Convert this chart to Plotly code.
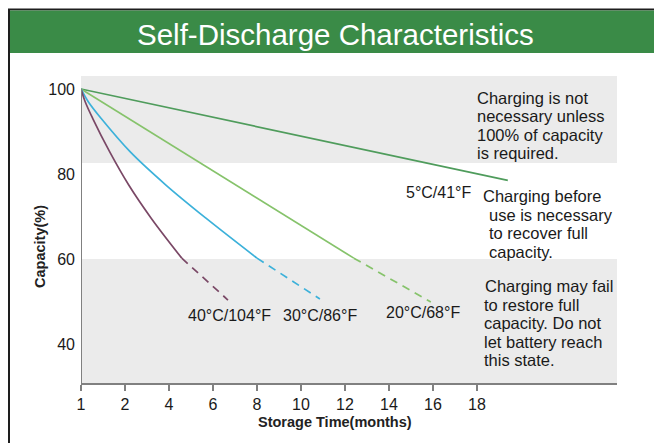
import plotly.graph_objects as go

# ---- data (x in axis units: first tick labelled "1" sits at 0) ----
tick_vals = [0, 2, 4, 6, 8, 10, 12, 14, 16, 18]
tick_text = ["1", "2", "4", "6", "8", "10", "12", "14", "16", "18"]
y_ticks = [40, 60, 80, 100]

t_5c = [0, 19.4]
c_5c = [100, 78.5]

t_20c_solid = [0, 12.4]
c_20c_solid = [100, 60.2]
t_20c_dash = [12.4, 15.9]
c_20c_dash = [60.2, 49.9]

t_30c_solid = [0, 0.33, 0.91, 2.23, 3.86, 5.68, 8.0]
c_30c_solid = [100, 97, 93.1, 85.25, 77.4, 69.6, 60.2]
t_30c_dash = [8.0, 10.86]
c_30c_dash = [60.2, 50.6]

t_40c_solid = [0, 0.19, 0.53, 1.30, 2.17, 3.19, 4.58]
c_40c_solid = [100, 97, 93.1, 85.25, 77.4, 69.6, 60.2]
t_40c_dash = [4.58, 6.68]
c_40c_dash = [60.2, 50.35]

labels = ["5°C/41°F", "20°C/68°F", "30°C/86°F", "40°C/104°F"]
note_top = ["Charging is not", "necessary unless", "100% of capacity", "is required."]
note_mid = ["Charging before", "use is necessary", "to recover full", "capacity."]
note_low = ["Charging may fail", "to restore full", "capacity. Do not", "let battery reach", "this state."]

# ---- layout geometry (screen pixels; page body adds an 8px offset) ----
OFF = 8
W, H = 662 - OFF, 443 - OFF
L, R, T, B = 81, 617, 76, 383
XMAX = (R - L) / 22.0
YMAX = 100 + (89 - T) / 4.25
YMIN = 100 - (B - 89) / 4.25

def px(x):
    return (x - L) / (R - L)

def py(y):
    return (B - y) / (B - T)

FONT = "Liberation Sans, Arial, sans-serif"
C5, C20, C30, C40 = "#4f9c5c", "#86c36b", "#3cb1da", "#7a4866"
DASH = "8px,6px"

fig = go.Figure()

def add_line(x, y, color, dash=None, spline=False):
    fig.add_trace(go.Scatter(
        x=x, y=y, mode="lines",
        line=dict(color=color, width=1.7, dash=dash or "solid",
                  shape="spline" if spline else "linear", smoothing=1.0),
        hoverinfo="skip", showlegend=False))

add_line(t_5c, c_5c, C5)
add_line(t_20c_solid, c_20c_solid, C20)
add_line(t_20c_dash, c_20c_dash, C20, DASH)
add_line(t_30c_solid, c_30c_solid, C30, spline=True)
add_line(t_30c_dash, c_30c_dash, C30, DASH)
add_line(t_40c_solid, c_40c_solid, C40, spline=True)
add_line(t_40c_dash, c_40c_dash, C40, DASH)

shapes = [
    # outer frame
    dict(type="rect", xref="paper", yref="paper", x0=px(9), x1=px(658), y0=py(460), y1=py(9.5),
         line=dict(color="#1e1e1e", width=2), fillcolor="rgba(0,0,0,0)", layer="below"),
    # header
    dict(type="rect", xref="paper", yref="paper", x0=px(10), x1=px(657), y0=py(53), y1=py(10.5),
         line=dict(width=0), fillcolor="#3a8b47", layer="below"),
    # grey zones
    dict(type="rect", xref="paper", yref="paper", x0=0, x1=1, y0=py(163), y1=1,
         line=dict(width=0), fillcolor="#ebebeb", layer="below"),
    dict(type="rect", xref="paper", yref="paper", x0=0, x1=1, y0=0, y1=py(259),
         line=dict(width=0), fillcolor="#ebebeb", layer="below"),
    # left axis line
    dict(type="line", xref="x", yref="y", x0=0, x1=0, y0=YMIN, y1=100,
         line=dict(color="#808080", width=2)),
]

ann = []
ann.append(dict(text="Self-Discharge Characteristics", xref="paper", yref="paper",
                x=px(335), y=py(35), showarrow=False, xanchor="center", yanchor="middle",
                font=dict(family=FONT, size=29.5, color="white")))
ann.append(dict(text="<b>Capacity(%)</b>", xref="paper", yref="paper", x=px(40), y=py(247),
                textangle=-90, showarrow=False, xanchor="center", yanchor="middle",
                font=dict(family=FONT, size=14.5, color="#222")))
ann.append(dict(text="<b>Storage Time(months)</b>", xref="paper", yref="paper", x=px(335), y=py(422),
                showarrow=False, xanchor="center", yanchor="middle",
                font=dict(family=FONT, size=14.5, color="#222")))

label_pos = [(438.5, 192), (422.5, 312), (319.5, 315), (229, 315)]
for txt, (lx, ly) in zip(labels, label_pos):
    ann.append(dict(text=txt, xref="paper", yref="paper", x=px(lx), y=py(ly), showarrow=False,
                    xanchor="center", yanchor="middle", font=dict(family=FONT, size=16, color="#1a1a1a")))

def add_note(lines, xs, y0, dy):
    for i, line in enumerate(lines):
        ann.append(dict(text=line, xref="paper", yref="paper", x=px(xs[i]), y=py(y0 + i * dy),
                        showarrow=False, xanchor="left", yanchor="middle",
                        font=dict(family=FONT, size=16.5, color="#1a1a1a")))

add_note(note_top, [475] * 4, 98, 18.4)
add_note(note_mid, [481, 487, 487, 487], 196, 18.7)
add_note(note_low, [483, 482, 482, 482, 482], 286, 18.5)

fig.update_layout(
    width=W, height=H,
    margin=dict(l=L - OFF, r=W - (R - OFF), t=T - OFF, b=H - (B - OFF), pad=0),
    paper_bgcolor="white", plot_bgcolor="rgba(0,0,0,0)",
    shapes=shapes, annotations=ann,
    xaxis=dict(range=[0, XMAX], tickvals=tick_vals, ticktext=tick_text,
               showgrid=False, zeroline=False, showline=True, linecolor="#808080", linewidth=2,
               ticks="outside", ticklen=6, tickwidth=1.5, tickcolor="#808080",
               tickfont=dict(family=FONT, size=16, color="#1a1a1a")),
    yaxis=dict(range=[YMIN, YMAX], tickvals=y_ticks, showgrid=False, zeroline=False,
               showline=False, ticks="", ticklabelstandoff=5,
               tickfont=dict(family=FONT, size=16, color="#1a1a1a")),
)

fig.write_html("out.html")
